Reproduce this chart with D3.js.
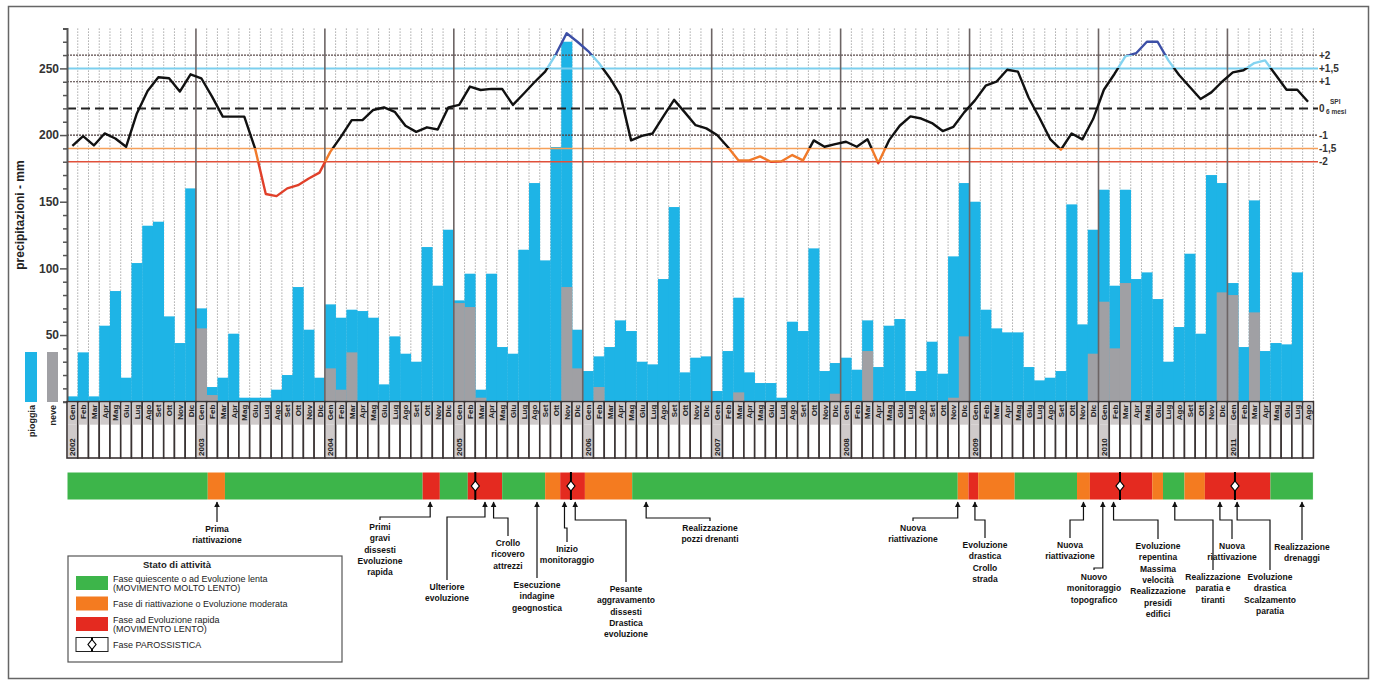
<!DOCTYPE html>
<html>
<head>
<meta charset="utf-8">
<script src="https://cdn.jsdelivr.net/npm/d3@7"></script>
<style>
  body { margin: 0; background: #fff; }
  svg { display: block; font-family: "Liberation Sans Narrow", "Liberation Sans", Arial, sans-serif; }
</style>
</head>
<body>
<svg id="chart" width="1375" height="684"></svg>
<script>
// ---- data -------------------------------------------------------------
const years = [2002, 2003, 2004, 2005, 2006, 2007, 2008, 2009, 2010, 2011];
const monthNames = ["Gen", "Feb", "Mar", "Apr", "Mag", "Giu", "Lug", "Ago", "Set", "Ott", "Nov", "Dic"];
const monthCount = 116; // Gen 2002 - Ago 2011

// monthly precipitation (mm), total
const precip = [
  4, 37, 4, 57, 83, 18, 104, 132, 135, 64, 44, 160,
  70, 11, 18, 51, 3, 3, 3, 9, 20, 86, 54, 18,
  73, 63, 69, 68, 63, 13, 49, 36, 30, 116, 87, 129,
  76, 96, 9, 96, 41, 36, 114, 164, 106, 191, 270, 54,
  23, 34, 41, 61, 53, 30, 28, 92, 146, 22, 33, 34,
  8, 38, 78, 22, 14, 14, 3, 60, 53, 115, 23, 29,
  33, 24, 61, 26, 57, 62, 8, 23, 45, 21, 109, 164,
  150, 69, 55, 52, 52, 26, 16, 18, 23, 148, 58, 129,
  159, 87, 159, 92, 97, 77, 30, 56, 111, 51, 170, 164,
  89, 41, 151, 38, 44, 43, 97
];
// part of the monthly total that fell as snow (mm)
const snow = [
  0, 0, 0, 0, 0, 0, 0, 0, 0, 0, 0, 0,
  55, 5, 0, 0, 0, 0, 0, 0, 0, 0, 0, 0,
  25, 9, 37, 0, 0, 0, 0, 0, 0, 0, 0, 0,
  74, 71, 3, 0, 0, 0, 0, 0, 0, 0, 86, 25,
  0, 11, 0, 0, 0, 0, 0, 0, 0, 0, 0, 0,
  0, 0, 7, 0, 0, 0, 0, 0, 0, 0, 0, 6,
  0, 0, 38, 0, 0, 0, 0, 0, 0, 0, 3, 49,
  0, 0, 0, 0, 0, 0, 0, 0, 0, 0, 0, 36,
  75, 40, 89, 0, 0, 0, 0, 0, 0, 0, 0, 82,
  80, 0, 67, 0, 0, 0, 0
];
// SPI 6 mesi, one value per month
const spi = [
  -1.41, -1.04, -1.39, -0.94, -1.13, -1.44, -0.19, 0.65, 1.17, 1.13, 0.63, 1.28,
  1.13, 0.44, -0.31, -0.31, -0.31, -1.50, -3.21, -3.29, -3.00, -2.88, -2.63, -2.41,
  -1.63, -1.06, -0.44, -0.44, -0.06, 0.04, -0.13, -0.65, -0.88, -0.71, -0.79, 0.04,
  0.13, 0.82, 0.69, 0.73, 0.73, 0.13, 0.55, 0.98, 1.38, 2.03, 2.82, 2.50,
  2.15, 1.70, 1.15, 0.50, -1.20, -1.03, -0.94, -0.30, 0.32, -0.15, -0.63, -0.75,
  -1.00, -1.45, -1.95, -1.95, -1.80, -2.00, -1.98, -1.75, -1.95, -1.20, -1.44, -1.34,
  -1.25, -1.44, -1.16, -2.06, -1.20, -0.65, -0.30, -0.38, -0.55, -0.85, -0.69, -0.15,
  0.30, 0.85, 1.00, 1.45, 1.38, 0.40, -0.35, -1.15, -1.55, -0.94, -1.16, -0.40,
  0.70, 1.30, 1.95, 2.07, 2.50, 2.50, 1.80, 1.25, 0.80, 0.35, 0.60, 1.00,
  1.35, 1.43, 1.70, 1.80, 1.25, 0.70, 0.70, 0.25
];
const spiLevels = [2, 1.5, 1, 0, -1, -1.5, -2];
const spiLabels = ["+2", "+1,5", "+1", "0", "-1", "-1,5", "-2"];
const yTicks = [50, 100, 150, 200, 250];

// activity state along the time axis (month units)
const activity = [
  { from: 0, to: 13.1, state: "lenta" },
  { from: 13.1, to: 14.7, state: "moderata" },
  { from: 14.7, to: 33.1, state: "lenta" },
  { from: 33.1, to: 34.7, state: "rapida" },
  { from: 34.7, to: 37.3, state: "lenta" },
  { from: 37.3, to: 40.5, state: "rapida" },
  { from: 40.5, to: 44.5, state: "lenta" },
  { from: 44.5, to: 45.9, state: "moderata" },
  { from: 45.9, to: 48.2, state: "rapida" },
  { from: 48.2, to: 52.6, state: "moderata" },
  { from: 52.6, to: 82.9, state: "lenta" },
  { from: 82.9, to: 83.9, state: "moderata" },
  { from: 83.9, to: 84.8, state: "rapida" },
  { from: 84.8, to: 88.2, state: "moderata" },
  { from: 88.2, to: 94.0, state: "lenta" },
  { from: 94.0, to: 95.2, state: "moderata" },
  { from: 95.2, to: 101.0, state: "rapida" },
  { from: 101.0, to: 102.0, state: "moderata" },
  { from: 102.0, to: 104.0, state: "lenta" },
  { from: 104.0, to: 105.9, state: "moderata" },
  { from: 105.9, to: 112.0, state: "rapida" },
  { from: 112.0, to: 116, state: "lenta" }
];
const paroxysms = [38.0, 46.9, 98.0, 108.7];

// events (month where the arrow points, text lines)
const events = [
  { m: 14.0, lines: ["Prima", "riattivazione"] },
  { m: 33.8, lines: ["Primi", "gravi", "dissesti", "Evoluzione", "rapida"] },
  { m: 38.9, lines: ["Ulteriore", "evoluzione"] },
  { m: 39.7, lines: ["Crollo", "ricovero", "attrezzi"] },
  { m: 43.8, lines: ["Esecuzione", "indagine", "geognostica"] },
  { m: 46.3, lines: ["Inizio", "monitoraggio"] },
  { m: 47.3, lines: ["Pesante", "aggravamento", "dissesti", "Drastica", "evoluzione"] },
  { m: 53.9, lines: ["Realizzazione", "pozzi drenanti"] },
  { m: 82.9, lines: ["Nuova", "riattivazione"] },
  { m: 84.5, lines: ["Evoluzione", "drastica", "Crollo", "strada"] },
  { m: 94.6, lines: ["Nuova", "riattivazione"] },
  { m: 96.4, lines: ["Nuovo", "monitoraggio", "topografico"] },
  { m: 97.4, lines: ["Evoluzione", "repentina", "Massima", "velocità", "Realizzazione", "presidi", "edifici"] },
  { m: 103.1, lines: ["Realizzazione", "paratia e", "tiranti"] },
  { m: 107.3, lines: ["Nuova", "riattivazione"] },
  { m: 108.9, lines: ["Evoluzione", "drastica", "Scalzamento", "paratia"] },
  { m: 115.0, lines: ["Realizzazione", "drenaggi"] }
];
const legendItems = [
  { state: "lenta", lines: ["Fase quiescente o ad Evoluzione lenta", "(MOVIMENTO MOLTO LENTO)"] },
  { state: "moderata", lines: ["Fase di riattivazione o Evoluzione moderata"] },
  { state: "rapida", lines: ["Fase ad Evoluzione rapida", "(MOVIMENTO LENTO)"] },
  { state: "parossistica", lines: ["Fase PAROSSISTICA"] }
];

// ---- layout -------------------------------------------------------------
const stateColor = { lenta: "#3db54a", moderata: "#f47b20", rapida: "#e42a20" };
const RAIN = "#1eb4e6", SNOW = "#a0a0a4";
const svg = d3.select("#chart");

const x = d3.scaleLinear().domain([0, monthCount]).range([67, 1313.4]);
const y = d3.scaleLinear().domain([0, 280]).range([401.7, 28.4]);
const ySpi = d3.scaleLinear().domain([0, 1]).range([y(220), y(240)]);
const plotTop = y(280), plotBottom = y(0);
const labelBottom = 458;

// outer frame
svg.append("rect").attr("x", 8.5).attr("y", 6.5).attr("width", 1360).attr("height", 672)
  .attr("fill", "none").attr("stroke", "#666").attr("stroke-width", 1.5);

// monthly grid (dotted) and yearly separators
const g = svg.append("g");
for (let i = 1; i <= monthCount; i++) {
  if (i % 12 === 0) continue;
  g.append("line").attr("x1", x(i)).attr("x2", x(i)).attr("y1", plotTop).attr("y2", plotBottom)
    .attr("stroke", "#aaa").attr("stroke-width", 1).attr("stroke-dasharray", "1.5,1.5");
}

// bars: rain and snow
const idx = d3.range(precip.length);
const bw = x(1) - x(0);
g.selectAll("rect.rain").data(idx).join("rect").attr("class", "rain")
  .attr("x", i => x(i)).attr("width", bw + 0.3)
  .attr("y", i => y(precip[i])).attr("height", i => y(0) - y(precip[i]))
  .attr("fill", RAIN);
g.selectAll("rect.snow").data(idx.filter(i => snow[i] > 0)).join("rect").attr("class", "snow")
  .attr("x", i => x(i)).attr("width", bw + 0.3)
  .attr("y", i => y(snow[i])).attr("height", i => y(0) - y(snow[i]))
  .attr("fill", SNOW);

// SPI reference lines
const levelStyle = {
  "2": { c: "#5a4a4a", w: 1.2, d: "2,1" },
  "1.5": { c: "#7ccfee", w: 2, d: null },
  "1": { c: "#4a3a3a", w: 1.2, d: "2,1" },
  "0": { c: "#222", w: 2, d: "9,5" },
  "-1": { c: "#4a3a3a", w: 1.2, d: "2,1" },
  "-1.5": { c: "#f5a05a", w: 1.5, d: null },
  "-2": { c: "#e0503a", w: 1.5, d: null }
};
spiLevels.forEach((lv, k) => {
  const st = levelStyle[String(lv)];
  const ln = g.append("line").attr("x1", x(0)).attr("x2", 1318)
    .attr("y1", ySpi(lv)).attr("y2", ySpi(lv))
    .attr("stroke", st.c).attr("stroke-width", st.w);
  if (st.d) ln.attr("stroke-dasharray", st.d);
  g.append("text").attr("x", 1319).attr("y", ySpi(lv) + 3.5)
    .attr("font-size", 10).attr("font-weight", "bold").attr("fill", "#333")
    .text(spiLabels[k]);
});
g.append("text").attr("x", 1330).attr("y", ySpi(0) - 4).attr("font-size", 6.5)
  .attr("font-weight", "bold").attr("fill", "#333").text("SPI");
g.append("text").attr("x", 1326).attr("y", ySpi(0) + 6).attr("font-size", 6.5)
  .attr("font-weight", "bold").attr("fill", "#333").text("6 mesi");

// year separators
years.forEach((yr, k) => {
  if (k === 0) return;
  g.append("line").attr("x1", x(k * 12)).attr("x2", x(k * 12))
    .attr("y1", plotTop).attr("y2", labelBottom)
    .attr("stroke", "#6d6565").attr("stroke-width", 1.6);
});

// SPI curve coloured by class through a vertical gradient
const defs = svg.append("defs");
const grad = defs.append("linearGradient").attr("id", "spiGrad")
  .attr("gradientUnits", "userSpaceOnUse")
  .attr("x1", 0).attr("x2", 0).attr("y1", y(280)).attr("y2", y(140));
const t = v => (y(v) - y(280)) / (y(140) - y(280));
[
  [0, "#3c4fa6"], [t(260), "#3c4fa6"], [t(260), "#84d3f0"], [t(250), "#84d3f0"],
  [t(250), "#111"], [t(190), "#111"], [t(190), "#f07a2a"], [t(180), "#f07a2a"],
  [t(180), "#e0402a"], [1, "#e0402a"]
].forEach(s => grad.append("stop").attr("offset", s[0]).attr("stop-color", s[1]));

const line = d3.line().x((d, i) => x(i + 0.5)).y(d => ySpi(d));
g.append("path").datum(spi).attr("d", line).attr("fill", "none")
  .attr("stroke", "url(#spiGrad)").attr("stroke-width", 2.4).attr("stroke-linejoin", "round");

// left axis
const axis = d3.axisLeft(y).tickValues(d3.range(0, 281, 10)).tickSize(4)
  .tickFormat(d => yTicks.includes(d) ? d : "");
const ax = svg.append("g").attr("transform", `translate(${x(0)},0)`).call(axis);
ax.select(".domain").attr("stroke", "#555").attr("stroke-width", 2);
ax.selectAll(".tick line").attr("stroke", "#555").attr("stroke-width", 1.5)
  .attr("x2", d => yTicks.includes(d) ? -7 : -4);
ax.selectAll(".tick text").attr("font-size", 12).attr("font-weight", "bold")
  .attr("fill", "#333").attr("x", -8).attr("font-family", "Liberation Sans, Arial, sans-serif");
svg.append("text").attr("transform", `translate(24,${y(140)}) rotate(-90)`)
  .attr("text-anchor", "middle").attr("font-size", 12).attr("font-weight", "bold")
  .attr("fill", "#222").text("precipitazioni - mm");

// rain/snow key
svg.append("rect").attr("x", 25).attr("y", 352).attr("width", 12).attr("height", 50).attr("fill", RAIN);
svg.append("rect").attr("x", 47).attr("y", 352).attr("width", 11).attr("height", 50).attr("fill", SNOW);
svg.append("text").attr("transform", "translate(35,405) rotate(-90)").attr("text-anchor", "end")
  .attr("font-size", 9).attr("font-weight", "bold").attr("fill", "#222").text("pioggia");
svg.append("text").attr("transform", "translate(56,405) rotate(-90)").attr("text-anchor", "end")
  .attr("font-size", 9).attr("font-weight", "bold").attr("fill", "#222").text("neve");

// month / year label cells
const cells = svg.append("g");
d3.range(monthCount).forEach(i => {
  const x0 = x(i), x1 = x(i + 1);
  cells.append("rect").attr("x", x0).attr("y", plotBottom).attr("width", x1 - x0)
    .attr("height", labelBottom - plotBottom).attr("fill", "#fff")
    .attr("stroke", "#3a3333").attr("stroke-width", 1.6);
  cells.append("rect").attr("x", x0 + 1).attr("y", plotBottom + 1).attr("width", x1 - x0 - 2)
    .attr("height", 22).attr("fill", "#cfcaca");
  cells.append("text").attr("transform", `translate(${(x0 + x1) / 2 + 3},${plotBottom + 3}) rotate(-90)`)
    .attr("text-anchor", "end").attr("font-size", 8).attr("font-weight", "bold").attr("fill", "#222")
    .text(monthNames[i % 12]);
  if (i % 12 === 0) {
    cells.append("rect").attr("x", x0 + 1).attr("y", plotBottom + 23).attr("width", x1 - x0 - 2)
      .attr("height", 32).attr("fill", "#cfcaca");
    cells.append("text").attr("transform", `translate(${(x0 + x1) / 2 + 3},${labelBottom - 2}) rotate(-90)`)
      .attr("font-size", 8).attr("font-weight", "bold").attr("fill", "#222")
      .text(years[i / 12]);
  }
});

// activity band
const bandTop = 472, bandH = 28;
const band = svg.append("g");
band.selectAll("rect").data(activity).join("rect")
  .attr("x", d => x(d.from)).attr("width", d => x(d.to) - x(d.from))
  .attr("y", bandTop).attr("height", bandH).attr("fill", d => stateColor[d.state]);
band.append("rect").attr("x", x(0)).attr("y", bandTop).attr("width", x(monthCount) - x(0))
  .attr("height", bandH).attr("fill", "none").attr("stroke", "#fff").attr("stroke-width", 1);
function diamond(sel, cx, cy, h) {
  sel.append("line").attr("x1", cx).attr("x2", cx).attr("y1", cy - h / 2).attr("y2", cy + h / 2)
    .attr("stroke", "#000").attr("stroke-width", 2);
  sel.append("path").attr("d", `M${cx},${cy - 5}L${cx + 4},${cy}L${cx},${cy + 5}L${cx - 4},${cy}Z`)
    .attr("fill", "#fff").attr("stroke", "#000").attr("stroke-width", 1.2);
}
paroxysms.forEach(m => diamond(band, x(m), bandTop + bandH / 2, bandH));

// event annotations: label centre, first baseline, elbow height
const eventLayout = [
  [217, 532, null], [380, 530, 517], [447, 590, 517], [508, 546, 518],
  [537, 588, null], [567, 552, 528], [626, 592, 520], [710, 531, 518],
  [913, 531, 518], [985, 548, 520], [1070, 548, 520], [1094, 580, 568],
  [1158, 549, 520], [1213, 580, 520], [1232, 549, 520], [1270, 580, 520],
  [1302, 550, null]
];
const ann = svg.append("g");
defs.append("marker").attr("id", "arrow").attr("viewBox", "0 0 10 10").attr("refX", 9).attr("refY", 5)
  .attr("markerWidth", 5).attr("markerHeight", 6).attr("orient", "auto")
  .append("path").attr("d", "M0,0L10,5L0,10Z").attr("fill", "#111");
events.forEach((ev, k) => {
  const [lx, ly, knee] = eventLayout[k];
  const ax0 = x(ev.m);
  const top = ly - 10;
  let d;
  if (knee === null) d = `M${lx},${top}L${lx},${bandTop + bandH + 2}`;
  else d = `M${lx},${top}L${lx},${knee}L${ax0},${knee}L${ax0},${bandTop + bandH + 2}`;
  ann.append("path").attr("d", d).attr("fill", "none").attr("stroke", "#111")
    .attr("stroke-width", 1.2).attr("marker-end", "url(#arrow)");
  const tx = ann.append("text").attr("text-anchor", "middle").attr("font-size", 8.5)
    .attr("font-weight", "bold").attr("fill", "#111");
  ev.lines.forEach((s, j) => tx.append("tspan").attr("x", lx).attr("y", ly + j * 11.3).text(s));
});

// state legend
const lg = svg.append("g");
lg.append("rect").attr("x", 68).attr("y", 556).attr("width", 274).attr("height", 106)
  .attr("fill", "#fff").attr("stroke", "#555").attr("stroke-width", 1.2);
lg.append("text").attr("x", 177).attr("y", 568).attr("text-anchor", "middle")
  .attr("font-size", 9.5).attr("font-weight", "bold").attr("fill", "#222").text("Stato di attività");
legendItems.forEach((it, k) => {
  const yy = 576 + k * 20.5;
  if (it.state === "parossistica") {
    lg.append("rect").attr("x", 76).attr("y", yy).attr("width", 32).attr("height", 14)
      .attr("fill", "#fff").attr("stroke", "#222").attr("stroke-width", 1);
    diamond(lg, 92, yy + 7, 14);
  } else {
    lg.append("rect").attr("x", 76).attr("y", yy).attr("width", 32).attr("height", 14)
      .attr("fill", stateColor[it.state]);
  }
  const tx = lg.append("text").attr("font-size", 9).attr("fill", "#222");
  const y0 = it.lines.length === 1 ? yy + 10 : yy + 6;
  it.lines.forEach((s, j) => tx.append("tspan").attr("x", 113).attr("y", y0 + j * 9).text(s));
});
</script>
</body>
</html>
